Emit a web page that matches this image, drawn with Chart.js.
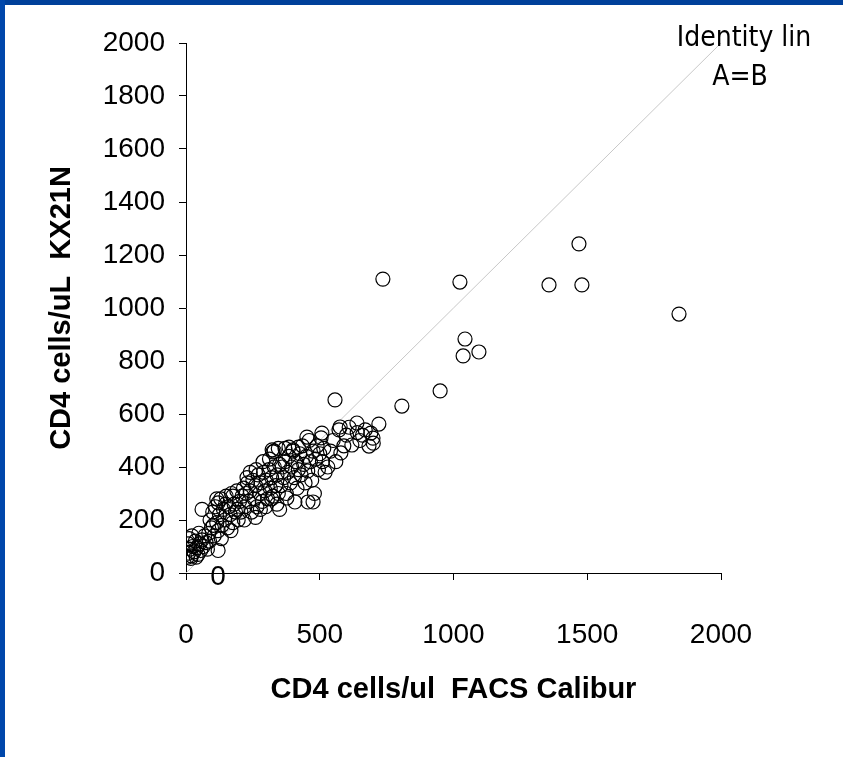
<!DOCTYPE html>
<html>
<head>
<meta charset="utf-8">
<script src="https://cdn.jsdelivr.net/npm/chart.js@4"></script>
<style>
  html, body { margin: 0; padding: 0; background: #fff; }
  #wrap { position: relative; width: 843px; height: 757px; overflow: hidden; }
  #topBar { position: absolute; left: 0; top: 0; width: 843px; height: 5px; background: #00409a; }
  #leftBar { position: absolute; left: 0; top: 0; width: 5px; height: 757px; background: #0047ab; }
</style>
</head>
<body>
<div id="wrap">
  <canvas id="cd4Chart" width="843" height="757"></canvas>
  <div id="topBar"></div>
  <div id="leftBar"></div>
</div>
<script>
// CD4 counts, FACS Calibur (x) vs KX21N (y)
const facsCalibur = [
  5, 10, 15, 8, 20, 25, 30, 35, 40, 12, 45, 50, 55, 22, 60, 65, 38, 70, 75, 48, 80, 18,
  85, 90, 95, 100, 105, 110, 115, 120, 125, 130, 135, 140, 145, 150, 155, 160, 165, 170, 175, 180, 185, 190, 195, 200, 88, 102, 132, 148, 168, 192, 115, 175,
  60, 120, 120,
  205, 210, 215, 220, 225, 230, 235, 240, 245, 250, 255, 260, 265, 270, 275, 280, 285, 290, 295, 300, 305, 310, 315, 320, 325, 330, 335, 340, 345, 350,
  218, 262, 288, 312, 228, 278, 298, 340, 240, 260, 320, 350,
  355, 360, 365, 370, 375, 380, 385, 390, 395, 400, 405, 410, 415, 420, 425, 430, 435, 440, 445, 450, 455, 460, 465, 470, 475, 480, 485, 490, 495, 500, 505, 510, 515, 520,
  377, 456, 475, 407, 325, 322, 345, 400, 420, 452, 508, 330, 370, 385,
  530, 540, 550, 557, 572, 576, 579, 600, 620, 639, 650, 684, 691, 699, 721, 560, 590, 610, 640, 670, 700, 660,
  736, 1024, 1357, 1480, 1469, 1843, 1043, 1036, 1095, 950, 807
]
const kx21n = [
  60, 75, 90, 110, 65, 100, 80, 120, 95, 130, 70, 110, 85, 140, 125, 100, 60, 140, 115, 150, 90, 55,
  150, 200, 170, 230, 140, 250, 190, 160, 220, 280, 180, 240, 200, 290, 170, 250, 220, 300, 190, 260, 230, 310, 200, 270, 120, 180, 130, 260, 160, 240, 280, 290,
  240, 265, 85,
  230, 290, 320, 250, 300, 340, 270, 310, 230, 350, 280, 330, 250, 370, 300, 340, 270, 380, 310, 350, 280, 390, 320, 360, 290, 400, 330, 370, 300, 410,
  200, 390, 420, 430, 360, 240, 250, 260, 380, 210, 280, 240,
  330, 400, 360, 420, 300, 380, 440, 340, 400, 460, 360, 420, 320, 390, 450, 370, 480, 410, 340, 440, 385, 500, 420, 350, 460, 300, 430, 480, 390, 450, 510, 420, 470, 380,
  283, 268, 268, 268, 457, 465, 470, 465, 475, 513, 528, 460, 470, 475,
  400, 460, 500, 653, 540, 551, 453, 520, 483, 566, 500, 479, 528, 509, 562, 420, 480, 550, 530, 540, 490, 520,
  1109, 1098, 1087, 1087, 1242, 977, 883, 819, 834, 687, 630
]
const identityLine = [0, 2000]
const axisTicks = [0, 500, 1000, 1500, 2000]

const points = facsCalibur.map((x, i) => ({ x: x, y: kx21n[i] }))

const notes = {
  id: 'notes',
  afterDatasetsDraw(chart) {
    const { ctx, scales } = chart
    ctx.save()
    ctx.fillStyle = '#000'
    ctx.textAlign = 'center'
    ctx.textBaseline = 'middle'
    ctx.font = '28px "DejaVu Sans Condensed", "Liberation Sans Narrow", "DejaVu Sans"'
    ctx.fillText('Identity lin', scales.x.getPixelForValue(2086), scales.y.getPixelForValue(2017))
    ctx.fillText('A=B', scales.x.getPixelForValue(2071), scales.y.getPixelForValue(1870))
    ctx.font = '28px "Liberation Sans", Arial'
    ctx.fillText('0', scales.x.getPixelForValue(120), scales.y.getPixelForValue(-18))
    ctx.restore()
  },
}

new Chart(document.getElementById('cd4Chart').getContext('2d'), {
  type: 'scatter',
  data: {
    datasets: [
      {
        label: 'CD4',
        data: points,
        pointStyle: 'circle',
        pointRadius: 7,
        borderColor: '#000',
        borderWidth: 1.2,
        backgroundColor: 'rgba(0,0,0,0)',
      },
      {
        label: 'Identity',
        data: identityLine.map((v) => ({ x: v, y: v })),
        showLine: true,
        borderColor: '#c8c8c8',
        borderWidth: 1,
        pointRadius: 0,
      },
    ],
  },
  options: {
    responsive: false,
    animation: false,
    layout: { padding: { top: 43, right: 122, left: 0, bottom: 0 } },
    plugins: {
      legend: { display: false },
      tooltip: { enabled: false },
    },
    scales: {
      x: {
        type: 'linear',
        min: 0,
        max: 2000,
        afterFit: (s) => { s.height = 184 },
        afterBuildTicks: (s) => { s.ticks = axisTicks.map((v) => ({ value: v })) },
        grid: { drawOnChartArea: false, drawTicks: true, tickLength: 7, color: '#000' },
        border: { color: '#000', width: 1 },
        ticks: {
          color: '#000',
          padding: 38,
          font: { family: '"Liberation Sans", Arial', size: 28 },
          callback: (v) => String(v),
        },
        title: {
          display: true,
          text: 'CD4 cells/ul  FACS Calibur',
          color: '#000',
          font: { family: '"Liberation Sans", Arial', size: 29, weight: 'bold' },
          padding: { bottom: 50 },
        },
      },
      y: {
        type: 'linear',
        min: 0,
        max: 2000,
        afterFit: (s) => { s.width = 186 },
        ticks: {
          stepSize: 200,
          color: '#000',
          padding: 14,
          font: { family: '"Liberation Sans", Arial', size: 28 },
          callback: (v) => String(v),
        },
        grid: { drawOnChartArea: false, drawTicks: true, tickLength: 7, color: '#000' },
        border: { color: '#000', width: 1 },
        title: {
          display: true,
          text: 'CD4 cells/uL  KX21N',
          color: '#000',
          font: { family: '"Liberation Sans", Arial', size: 29, weight: 'bold' },
          padding: { top: 45 },
        },
      },
    },
  },
  plugins: [notes],
})
</script>
</body>
</html>
